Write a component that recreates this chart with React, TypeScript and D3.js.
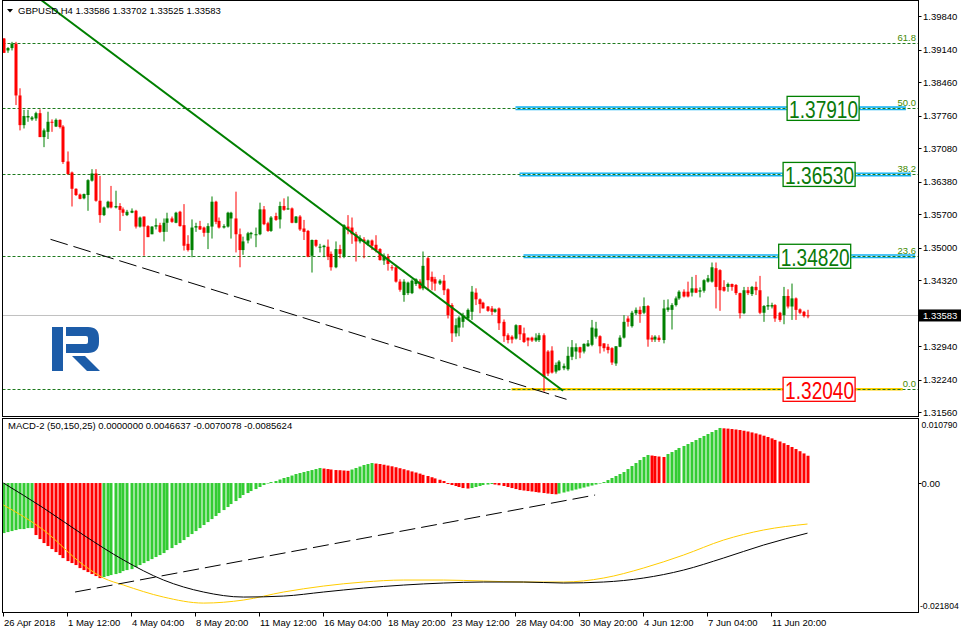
import React, { useEffect } from 'react';
import * as d3 from 'd3';

const W = 961;
const H = 633;

// ---- DATA ----
const symbolTitle = 'GBPUSD,H4  1.33586 1.33702 1.33525 1.33583';
const macdTitle = 'MACD-2 (50,150,25) 0.0000000 0.0046637 -0.0070078 -0.0085624';

const xLabels = ['26 Apr 2018', '1 May 12:00', '4 May 04:00', '8 May 20:00', '11 May 12:00', '16 May 04:00', '18 May 20:00', '23 May 12:00', '28 May 04:00', '30 May 20:00', '4 Jun 12:00', '7 Jun 04:00', '11 Jun 20:00'];
const xLabelBars = [0, 16, 32, 48, 64, 80, 96, 112, 128, 144, 160, 176, 192];

const priceTicks = [1.3984, 1.3914, 1.3846, 1.3776, 1.3708, 1.3638, 1.357, 1.35, 1.3432, 1.3294, 1.3224, 1.3156];
const lastPrice = 1.33583;

const macdTicks = [0.01079, 0.0, -0.021804];
const macdTickLabels = ['0.010790', '0.00', '-0.021804'];

// [open, high, low, close]
const candles: number[][] = [
  [1.3937, 1.3938, 1.3907, 1.3907], [1.3912, 1.3919, 1.3907, 1.3917], [1.3917, 1.3930, 1.3912, 1.3926], [1.3926, 1.3930, 1.3798, 1.3818],
  [1.3818, 1.3833, 1.3745, 1.3756], [1.3756, 1.3788, 1.3749, 1.3775], [1.3772, 1.3788, 1.3763, 1.3775], [1.3768, 1.3775, 1.3765, 1.3772],
  [1.3770, 1.3784, 1.3765, 1.3781], [1.3781, 1.3789, 1.3731, 1.3731], [1.3731, 1.3749, 1.3710, 1.3745], [1.3742, 1.3784, 1.3727, 1.3763],
  [1.3763, 1.3768, 1.3742, 1.3761], [1.3753, 1.3770, 1.3752, 1.3767], [1.3767, 1.3768, 1.3749, 1.3752], [1.3753, 1.3756, 1.3675, 1.3679],
  [1.3680, 1.3701, 1.3652, 1.3654], [1.3657, 1.3659, 1.3586, 1.3623], [1.3623, 1.3624, 1.3608, 1.3610], [1.3611, 1.3613, 1.3601, 1.3602],
  [1.3603, 1.3613, 1.3601, 1.3612], [1.3610, 1.3643, 1.3577, 1.3641], [1.3640, 1.3664, 1.3638, 1.3655], [1.3655, 1.3664, 1.3596, 1.3598],
  [1.3598, 1.3650, 1.3552, 1.3568], [1.3568, 1.3586, 1.3566, 1.3584], [1.3584, 1.3598, 1.3582, 1.3596], [1.3596, 1.3629, 1.3582, 1.3584],
  [1.3584, 1.3619, 1.3582, 1.3587], [1.3587, 1.3593, 1.3535, 1.3579], [1.3580, 1.3584, 1.3566, 1.3573], [1.3568, 1.3579, 1.3566, 1.3575],
  [1.3573, 1.3582, 1.3572, 1.3577], [1.3577, 1.3579, 1.3540, 1.3544], [1.3544, 1.3565, 1.3542, 1.3563], [1.3565, 1.3565, 1.3483, 1.3544],
  [1.3545, 1.3547, 1.3522, 1.3522], [1.3528, 1.3545, 1.3528, 1.3544], [1.3544, 1.3561, 1.3538, 1.3547], [1.3547, 1.3552, 1.3531, 1.3533],
  [1.3533, 1.3561, 1.3513, 1.3552], [1.3552, 1.3573, 1.3533, 1.3561], [1.3561, 1.3565, 1.3552, 1.3554], [1.3552, 1.3575, 1.3551, 1.3573],
  [1.3575, 1.3577, 1.3544, 1.3545], [1.3547, 1.3591, 1.3494, 1.3504], [1.3508, 1.3526, 1.3492, 1.3495], [1.3495, 1.3559, 1.3480, 1.3542],
  [1.3542, 1.3552, 1.3533, 1.3545], [1.3545, 1.3556, 1.3537, 1.3538], [1.3542, 1.3544, 1.3523, 1.3531], [1.3531, 1.3551, 1.3497, 1.3545],
  [1.3544, 1.3607, 1.3519, 1.3596], [1.3596, 1.3598, 1.3549, 1.3554], [1.3556, 1.3563, 1.3540, 1.3542], [1.3542, 1.3549, 1.3540, 1.3545],
  [1.3544, 1.3575, 1.3542, 1.3573], [1.3561, 1.3575, 1.3519, 1.3573], [1.3561, 1.3617, 1.3490, 1.3528], [1.3528, 1.3540, 1.3459, 1.3495],
  [1.3495, 1.3523, 1.3485, 1.3513], [1.3515, 1.3533, 1.3509, 1.3530], [1.3528, 1.3533, 1.3519, 1.3531], [1.3526, 1.3542, 1.3501, 1.3528],
  [1.3528, 1.3594, 1.3526, 1.3580], [1.3580, 1.3587, 1.3547, 1.3549], [1.3551, 1.3554, 1.3533, 1.3535], [1.3535, 1.3566, 1.3533, 1.3563],
  [1.3566, 1.3573, 1.3556, 1.3558], [1.3559, 1.3596, 1.3540, 1.3587], [1.3587, 1.3603, 1.3577, 1.3579], [1.3580, 1.3607, 1.3579, 1.3582],
  [1.3582, 1.3584, 1.3551, 1.3552], [1.3552, 1.3566, 1.3551, 1.3565], [1.3565, 1.3568, 1.3535, 1.3538], [1.3540, 1.3558, 1.3516, 1.3533],
  [1.3535, 1.3537, 1.3480, 1.3481], [1.3483, 1.3517, 1.3448, 1.3516], [1.3516, 1.3517, 1.3501, 1.3504], [1.3501, 1.3508, 1.3490, 1.3502],
  [1.3501, 1.3506, 1.3480, 1.3504], [1.3502, 1.3517, 1.3474, 1.3481], [1.3487, 1.3492, 1.3452, 1.3459], [1.3459, 1.3513, 1.3457, 1.3497],
  [1.3497, 1.3506, 1.3478, 1.3487], [1.3481, 1.3549, 1.3478, 1.3547], [1.3544, 1.3568, 1.3528, 1.3538], [1.3542, 1.3563, 1.3508, 1.3528],
  [1.3528, 1.3533, 1.3471, 1.3513], [1.3513, 1.3526, 1.3509, 1.3519], [1.3517, 1.3522, 1.3478, 1.3513], [1.3508, 1.3517, 1.3504, 1.3515],
  [1.3515, 1.3517, 1.3495, 1.3504], [1.3506, 1.3526, 1.3490, 1.3495], [1.3497, 1.3499, 1.3473, 1.3474], [1.3473, 1.3488, 1.3464, 1.3483],
  [1.3481, 1.3487, 1.3452, 1.3466], [1.3459, 1.3464, 1.3452, 1.3457], [1.3459, 1.3464, 1.3427, 1.3429], [1.3429, 1.3434, 1.3408, 1.3412],
  [1.3401, 1.3434, 1.3387, 1.3429], [1.3405, 1.3429, 1.3401, 1.3427], [1.3405, 1.3434, 1.3403, 1.3431], [1.3424, 1.3436, 1.3420, 1.3434],
  [1.3429, 1.3434, 1.3413, 1.3415], [1.3415, 1.3492, 1.3411, 1.3462], [1.3478, 1.3481, 1.3411, 1.3432], [1.3439, 1.3450, 1.3411, 1.3429],
  [1.3434, 1.3439, 1.3410, 1.3425], [1.3425, 1.3434, 1.3422, 1.3431], [1.3431, 1.3443, 1.3401, 1.3411], [1.3413, 1.3415, 1.3352, 1.3359],
  [1.3380, 1.3384, 1.3303, 1.3321], [1.3321, 1.3352, 1.3314, 1.3338], [1.3333, 1.3357, 1.3315, 1.3354], [1.3345, 1.3364, 1.3333, 1.3359],
  [1.3352, 1.3373, 1.3350, 1.3370], [1.3366, 1.3420, 1.3349, 1.3408], [1.3406, 1.3415, 1.3380, 1.3392], [1.3392, 1.3394, 1.3363, 1.3382],
  [1.3385, 1.3387, 1.3373, 1.3373], [1.3377, 1.3378, 1.3366, 1.3368], [1.3373, 1.3378, 1.3359, 1.3366], [1.3366, 1.3373, 1.3364, 1.3371],
  [1.3373, 1.3375, 1.3328, 1.3342], [1.3345, 1.3350, 1.3303, 1.3315], [1.3317, 1.3321, 1.3300, 1.3307], [1.3314, 1.3317, 1.3300, 1.3308],
  [1.3310, 1.3340, 1.3308, 1.3338], [1.3338, 1.3338, 1.3307, 1.3319], [1.3321, 1.3333, 1.3301, 1.3303], [1.3312, 1.3312, 1.3294, 1.3306],
  [1.3312, 1.3314, 1.3303, 1.3306], [1.3306, 1.3321, 1.3303, 1.3312], [1.3307, 1.3322, 1.3303, 1.3317], [1.3317, 1.3321, 1.3199, 1.3230],
  [1.3283, 1.3286, 1.3232, 1.3237], [1.3285, 1.3294, 1.3237, 1.3239], [1.3241, 1.3260, 1.3237, 1.3255], [1.3244, 1.3265, 1.3243, 1.3262],
  [1.3248, 1.3258, 1.3244, 1.3253], [1.3246, 1.3293, 1.3243, 1.3274], [1.3272, 1.3307, 1.3265, 1.3292], [1.3283, 1.3300, 1.3267, 1.3292],
  [1.3292, 1.3293, 1.3269, 1.3281], [1.3283, 1.3300, 1.3279, 1.3299], [1.3294, 1.3307, 1.3293, 1.3300], [1.3297, 1.3349, 1.3294, 1.3333],
  [1.3314, 1.3345, 1.3310, 1.3331], [1.3315, 1.3317, 1.3279, 1.3294], [1.3300, 1.3300, 1.3283, 1.3290], [1.3293, 1.3299, 1.3279, 1.3286],
  [1.3290, 1.3292, 1.3255, 1.3260], [1.3258, 1.3294, 1.3253, 1.3294], [1.3293, 1.3317, 1.3292, 1.3312], [1.3312, 1.3359, 1.3310, 1.3345],
  [1.3352, 1.3357, 1.3335, 1.3345], [1.3336, 1.3368, 1.3333, 1.3364], [1.3363, 1.3375, 1.3359, 1.3370], [1.3370, 1.3377, 1.3343, 1.3361],
  [1.3364, 1.3396, 1.3361, 1.3378], [1.3378, 1.3380, 1.3293, 1.3308], [1.3312, 1.3317, 1.3303, 1.3308], [1.3308, 1.3317, 1.3303, 1.3314],
  [1.3312, 1.3317, 1.3303, 1.3307], [1.3307, 1.3391, 1.3300, 1.3373], [1.3370, 1.3392, 1.3366, 1.3375], [1.3370, 1.3384, 1.3329, 1.3380],
  [1.3380, 1.3398, 1.3377, 1.3394], [1.3394, 1.3411, 1.3391, 1.3408], [1.3408, 1.3413, 1.3396, 1.3398], [1.3408, 1.3429, 1.3396, 1.3398],
  [1.3406, 1.3439, 1.3398, 1.3415], [1.3415, 1.3443, 1.3405, 1.3406], [1.3408, 1.3417, 1.3396, 1.3411], [1.3410, 1.3434, 1.3406, 1.3432],
  [1.3429, 1.3443, 1.3427, 1.3436], [1.3429, 1.3469, 1.3427, 1.3459], [1.3457, 1.3469, 1.3373, 1.3418], [1.3453, 1.3455, 1.3368, 1.3411],
  [1.3418, 1.3432, 1.3408, 1.3410], [1.3418, 1.3427, 1.3408, 1.3424], [1.3424, 1.3425, 1.3410, 1.3418], [1.3422, 1.3424, 1.3401, 1.3405],
  [1.3405, 1.3406, 1.3352, 1.3363], [1.3363, 1.3418, 1.3361, 1.3411], [1.3411, 1.3418, 1.3401, 1.3405], [1.3403, 1.3420, 1.3399, 1.3418],
  [1.3418, 1.3429, 1.3401, 1.3411], [1.3411, 1.3441, 1.3361, 1.3364], [1.3364, 1.3380, 1.3345, 1.3378], [1.3377, 1.3398, 1.3370, 1.3380],
  [1.3377, 1.3385, 1.3373, 1.3380], [1.3380, 1.3382, 1.3345, 1.3352], [1.3364, 1.3366, 1.3345, 1.3349], [1.3359, 1.3418, 1.3340, 1.3399],
  [1.3399, 1.3413, 1.3373, 1.3377], [1.3377, 1.3425, 1.3349, 1.3394], [1.3394, 1.3396, 1.3349, 1.3370], [1.3371, 1.3373, 1.3361, 1.3364],
  [1.3366, 1.3368, 1.3354, 1.3357], [1.33586, 1.33702, 1.33525, 1.33583],
];

const macdHist: number[] = [
  -0.00855, -0.00838, -0.00821, -0.00804, -0.00787, -0.00787, -0.0077, -0.0077,
  -0.00889, -0.00958, -0.01026, -0.01077, -0.01129, -0.0118, -0.01231, -0.01283, -0.01334, -0.01368, -0.01402, -0.01454, -0.01488, -0.01522, -0.01556, -0.0159, -0.01625,
  -0.01607, -0.0159, -0.01573, -0.01556, -0.01539, -0.01505, -0.01488, -0.01471, -0.01436, -0.01402, -0.01368, -0.01334, -0.013, -0.01265, -0.01231,
  -0.01197, -0.01146, -0.01112, -0.0106, -0.01026, -0.00975, -0.00923, -0.00872, -0.00821, -0.0077, -0.00718, -0.00667, -0.00616, -0.00564, -0.00513,
  -0.00462, -0.0041, -0.00359, -0.00308, -0.00257, -0.00205, -0.00171, -0.00137, -0.00103, -0.00068, -0.00034, -0.00009,
  0.00017, 0.00034, 0.0006, 0.00086, 0.00103, 0.00128, 0.00154, 0.00171, 0.00188, 0.00205, 0.00222, 0.00239, 0.00257,
  0.00248, 0.00239, 0.00231, 0.00222, 0.00219, 0.00214, 0.00209,
  0.00231, 0.00257, 0.00282, 0.00308, 0.00325, 0.00342,
  0.00333, 0.00325, 0.00313, 0.00299, 0.00286, 0.0027, 0.00253, 0.00236, 0.00217, 0.00198, 0.0018, 0.00161, 0.0014, 0.0012, 0.00099, 0.00079, 0.00056, 0.00034,
  -0.00017, -0.00034, -0.00051, -0.00068, -0.00086, -0.00094,
  -0.00086, -0.00068, -0.00051, -0.00034, -0.00026, -0.00017,
  -0.00026, -0.00038, -0.00051, -0.00068, -0.00086, -0.00103, -0.0012, -0.00128, -0.00137, -0.00145, -0.00154, -0.00162, -0.00171, -0.0018, -0.00188, -0.00193,
  -0.0018, -0.00162, -0.00145, -0.00128, -0.00111, -0.00094, -0.00077, -0.0006, -0.00043, -0.00026, -0.00009,
  0.00017, 0.00051, 0.00086, 0.0012, 0.00154, 0.00188, 0.00239, 0.00291, 0.00342, 0.00393, 0.00445, 0.00479,
  0.0047, 0.00462, 0.00453, 0.00445,
  0.00496, 0.0053, 0.00564, 0.00599, 0.00633, 0.00667, 0.00701, 0.00735, 0.0077, 0.00804, 0.00838, 0.00872, 0.00906, 0.00941,
  0.00935, 0.0093, 0.00923, 0.00915, 0.00906, 0.00894, 0.00881, 0.00865, 0.00848, 0.00829, 0.00809, 0.00787, 0.00763, 0.00737, 0.0071, 0.00681, 0.0065, 0.00616, 0.00581, 0.00544, 0.00506, 0.0046637,
];

const blackLineBars = [0, 10, 20, 30, 40, 50, 60, 70, 80, 90, 100, 110, 120, 130, 140, 150, 160, 170, 180, 190, 201];
const blackLineVals = [0, -0.00427, -0.00889, -0.01316, -0.01658, -0.01863, -0.01949, -0.01932, -0.01863, -0.01795, -0.01744, -0.01709, -0.01692, -0.01692, -0.01709, -0.01692, -0.01624, -0.01488, -0.01282, -0.0106, -0.0085624];
const yellowLineBars = [0, 10, 20, 25, 30, 40, 50, 60, 70, 80, 90, 100, 110, 120, 130, 140, 150, 160, 170, 180, 190, 201];
const yellowLineVals = [-0.00376, -0.00803, -0.01402, -0.01624, -0.01744, -0.01949, -0.02052, -0.02, -0.01863, -0.01761, -0.01692, -0.01658, -0.01658, -0.01675, -0.01692, -0.01692, -0.01624, -0.01453, -0.01231, -0.00975, -0.00803, -0.0070078];

const fibLevels = ['0.0', '23.6', '38.2', '50.0', '61.8'];
const fibPrices = [1.3204, 1.3482, 1.3653, 1.3791, 1.3927];

// horizontal marker lines (price, start bar, end bar), label box centre bar
const markerLabels = ['1.32040', '1.34820', '1.36530', '1.37910'];
const markerPrices = [1.3204, 1.3482, 1.3653, 1.3791];
const markerStartBar = [127, 130, 129, 128];
const markerEndBar = [224.8, 227.9, 226.9, 225.6];
const markerBoxBar = [203.9, 202.8, 203.9, 204.9];
const markerIsSupport = [true, false, false, false];

// trend lines: [bar, price] pairs
const greenTrend = [[9.4, 1.40174], [139.9, 1.32011]];
const blackTrend = [[11.75, 1.35174], [140.75, 1.31831]];
const macdTrend = [[17.9, -0.01863], [147.9, -0.00205]];

// ---- LAYOUT ----
const FONT = "'Liberation Sans', Arial, sans-serif";
const LEFT = 2.5;
const AXIS_X = 918.5;
const MAIN_TOP = 0.5;
const MAIN_BOTTOM = 416.5;
const MACD_TOP = 418.5;
const MACD_BOTTOM = 612.5;

export default function App() {
  useEffect(() => {
    document.body.style.margin = '0';
  }, []);

  const x = d3.scaleLinear().domain([0, 201]).range([3.5, 807.5]);
  const y = d3.scaleLinear().domain([1.3156, 1.3984]).range([412.3, 16]);
  const my = d3.scaleLinear().domain([-0.021804, 0.01079]).range([610.6, 419.9]);

  const green = '#008000';
  const red = '#ff0000';

  const blackLine = d3.line<number>().x((_, i) => x(blackLineBars[i])).y((d) => my(d)).curve(d3.curveMonotoneX)(blackLineVals) || '';
  const yellowLine = d3.line<number>().x((_, i) => x(yellowLineBars[i])).y((d) => my(d)).curve(d3.curveMonotoneX)(yellowLineVals) || '';

  const zeroY = my(0);

  return (
    <svg width={W} height={H} style={{ position: 'absolute', left: 0, top: 0, background: '#fff' }} fontFamily={FONT}>
      <defs>
        <clipPath id="mainClip">
          <rect x={LEFT} y={MAIN_TOP} width={AXIS_X - LEFT} height={MAIN_BOTTOM - MAIN_TOP} />
        </clipPath>
        <clipPath id="macdClip">
          <rect x={LEFT} y={MACD_TOP} width={AXIS_X - LEFT} height={MACD_BOTTOM - MACD_TOP} />
        </clipPath>
      </defs>
      <rect x={0} y={0} width={W} height={H} fill="#fff" />

      {/* ---- main panel ---- */}
      <g clipPath="url(#mainClip)">
        {/* current price line */}
        <line x1={LEFT} x2={AXIS_X} y1={y(lastPrice)} y2={y(lastPrice)} stroke="#c0c0c0" strokeWidth={1} />

        {/* marker lines (blue / yellow) */}
        {markerPrices.map((p, i) => (
          <g key={'ml' + i}>
            <line x1={x(markerStartBar[i])} x2={x(markerEndBar[i])} y1={y(p)} y2={y(p)}
              stroke={markerIsSupport[i] ? '#ffd000' : '#12b2f2'} strokeWidth={markerIsSupport[i] ? 2.5 : 4} />
            {!markerIsSupport[i] && (
              <line x1={x(markerStartBar[i])} x2={x(markerEndBar[i])} y1={y(p)} y2={y(p)} stroke="#ffffff" strokeWidth={1} />
            )}
          </g>
        ))}

        {/* fib levels */}
        {fibPrices.map((p, i) => (
          <g key={'fib' + i}>
            <line x1={LEFT} x2={AXIS_X} y1={Math.round(y(p)) + 0.5} y2={Math.round(y(p)) + 0.5} stroke="#1e7a1e" strokeWidth={1} strokeDasharray="3,2" />
            <text x={916} y={y(p) - 2} textAnchor="end" fontSize={9.5} fill="#3f8a00">{fibLevels[i]}</text>
          </g>
        ))}

        {/* black dashed trend */}
        <line x1={x(blackTrend[0][0])} y1={y(blackTrend[0][1])} x2={x(blackTrend[1][0])} y2={y(blackTrend[1][1])}
          stroke="#000" strokeWidth={1} strokeDasharray="18,6" />

        {/* candles */}
        {candles.map((c, i) => {
          const [o, h, l, cl] = c;
          const col = cl >= o ? green : red;
          const cx = Math.round(x(i));
          const top = y(Math.max(o, cl));
          const bot = y(Math.min(o, cl));
          return (
            <g key={'c' + i}>
              <rect x={cx - 0.5} y={y(h)} width={1} height={Math.max(1, y(l) - y(h))} fill={col} />
              <rect x={cx - 1.5} y={top} width={3} height={Math.max(1, bot - top)} fill={col} />
            </g>
          );
        })}

        {/* green trend line */}
        <line x1={x(greenTrend[0][0])} y1={y(greenTrend[0][1])} x2={x(greenTrend[1][0])} y2={y(greenTrend[1][1])}
          stroke="#008000" strokeWidth={2} />

        {/* label boxes */}
        {markerPrices.map((p, i) => {
          const cx = x(markerBoxBar[i]);
          const cy = y(p);
          const col = markerIsSupport[i] ? '#ff0000' : '#008000';
          const txt = markerIsSupport[i] ? '#ff0000' : '#0a7a0a';
          return (
            <g key={'box' + i}>
              <rect x={cx - 36} y={cy - 12} width={72} height={24} fill="#fff" stroke={col} strokeWidth={1.3} />
              <text x={cx - 34} y={cy + 9.5} fontSize={24} fill={txt} textLength={69} lengthAdjust="spacingAndGlyphs">{markerLabels[i]}</text>
            </g>
          );
        })}

        {/* logo */}
        <g fill="#1c5ca8">
          <rect x={52} y={327} width={11} height={44} />
          <path d="M66,327 H88 Q99,327 99,338 V342 Q99,353 88,353 H66 V344 H86 Q88,344 88,342 V338 Q88,336 86,336 H66 Z" />
          <polygon points="72,356 85,356 100,371 87,371" />
        </g>
      </g>

      {/* header */}
      <polygon points="7,9 13,9 10,12.5" fill="#000" />
      <text x={18} y={14} fontSize={9.5} fill="#000">{symbolTitle}</text>

      {/* ---- MACD panel ---- */}
      <g clipPath="url(#macdClip)">
        {macdHist.map((v, i) => {
          const prev = i === 0 ? v : macdHist[i - 1];
          const col = v >= prev ? '#33cc33' : '#ff0000';
          const yv = my(v);
          const cx = Math.round(x(i));
          return <rect key={'h' + i} x={cx - 1.5} y={Math.min(yv, zeroY)} width={3} height={Math.max(0.5, Math.abs(yv - zeroY))} fill={col} />;
        })}
        <path d={yellowLine} fill="none" stroke="#ffcc00" strokeWidth={1} />
        <path d={blackLine} fill="none" stroke="#000" strokeWidth={1} />
        <line x1={x(macdTrend[0][0])} y1={my(macdTrend[0][1])} x2={x(macdTrend[1][0])} y2={my(macdTrend[1][1])}
          stroke="#000" strokeWidth={1} strokeDasharray="16,6" />
      </g>
      <text x={8} y={428.5} fontSize={9.5} fill="#000">{macdTitle}</text>

      {/* frames */}
      <rect x={LEFT} y={MAIN_TOP} width={AXIS_X - LEFT} height={MAIN_BOTTOM - MAIN_TOP} fill="none" stroke="#000" strokeWidth={1} />
      <rect x={LEFT} y={MACD_TOP} width={AXIS_X - LEFT} height={MACD_BOTTOM - MACD_TOP} fill="none" stroke="#000" strokeWidth={1} />

      {/* price axis */}
      {priceTicks.map((p, i) => (
        <g key={'pt' + i}>
          <line x1={AXIS_X} x2={AXIS_X + 3} y1={Math.round(y(p)) + 0.5} y2={Math.round(y(p)) + 0.5} stroke="#000" />
          <text x={923} y={y(p) + 3.5} fontSize={9.5} fill="#000">{p.toFixed(5)}</text>
        </g>
      ))}
      <rect x={919} y={y(lastPrice) - 6} width={42} height={12} fill="#000" />
      <text x={923} y={y(lastPrice) + 3.5} fontSize={9.5} fill="#fff">{lastPrice.toFixed(5)}</text>

      {/* macd axis */}
      {macdTicks.map((v, i) => {
        const ty = i === 0 ? 428 : i === 2 ? 608.5 : my(v) + 3.5;
        return (
          <g key={'mt' + i}>
            {i === 1 && <line x1={AXIS_X} x2={AXIS_X + 3} y1={Math.round(my(v)) + 0.5} y2={Math.round(my(v)) + 0.5} stroke="#000" />}
            <text x={i === 2 ? 920 : 921.5} y={ty} fontSize={i === 1 ? 9.5 : 8.6} fill="#000">{macdTickLabels[i]}</text>
          </g>
        );
      })}

      {/* time axis */}
      {xLabelBars.map((b, i) => (
        <g key={'xt' + i}>
          <line x1={Math.round(x(b)) - 0.5} x2={Math.round(x(b)) - 0.5} y1={MACD_BOTTOM} y2={MACD_BOTTOM + 4} stroke="#000" />
          <text x={Math.round(x(b))} y={625.5} fontSize={9.5} fill="#000">{xLabels[i]}</text>
        </g>
      ))}
    </svg>
  );
}
